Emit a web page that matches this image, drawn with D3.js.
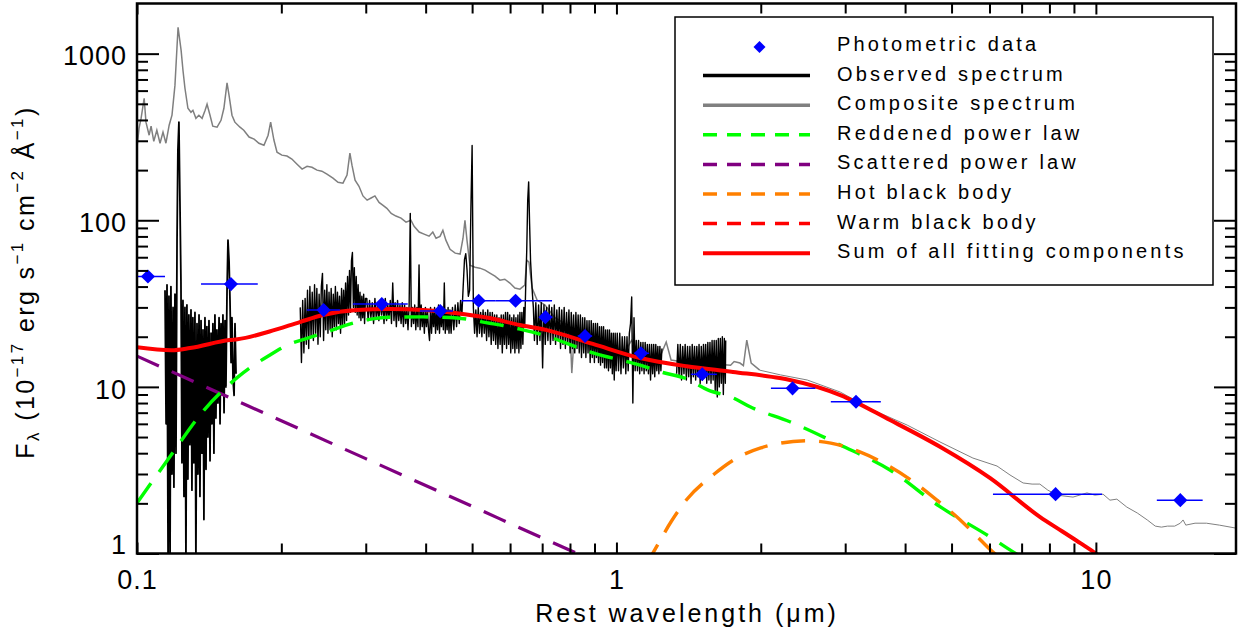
<!DOCTYPE html>
<html><head><meta charset="utf-8">
<script src="https://cdn.jsdelivr.net/npm/d3@7/dist/d3.min.js"></script>
<style>
html,body{margin:0;padding:0;background:#fff;}
svg text{font-family:"Liberation Sans",Arial,Helvetica,sans-serif;fill:#000;}
</style></head><body>
<svg id="chart" width="1247" height="640"></svg>
<script>
// ---------------- DATA (wavelength in micron, flux in 1e-17 erg/s/cm2/A) ----------------
const xMajorTicks = [0.1, 1, 10];
const xTickLabels = ["0.1", "1", "10"];
const xMinorTicks = [0.2,0.3,0.4,0.5,0.6,0.7,0.8,0.9,2,3,4,5,6,7,8,9];
const yMajorTicks = [1, 10, 100, 1000];
const yTickLabels = ["1", "10", "100", "1000"];
const yMinorTicks = [2,3,4,5,6,7,8,9,20,30,40,50,60,70,80,90,200,300,400,500,600,700,800,900];

const legendLabels = ["Photometric data","Observed spectrum","Composite spectrum","Reddened power law",
  "Scattered power law","Hot black body","Warm black body","Sum of all fitting components"];

// photometric points with wavelength ranges
const photWave = [0.1054,0.157,0.245,0.324,0.429,0.516,0.616,0.711,0.86,1.125,1.51,2.33,3.16,8.24,15.0];
const photFlux = [46,41.4,28.9,31.4,28.5,32.9,32.9,26.2,20.2,15.9,11.9,9.8,8.14,2.27,2.09];
const photLo   = [0.097,0.136,0.226,0.282,0.389,0.475,0.56,0.69,0.83,1.09,1.43,2.10,2.80,6.10,13.4];
const photHi   = [0.1144,0.1786,0.265,0.367,0.456,0.56,0.734,0.735,0.89,1.17,1.62,2.60,3.56,10.3,16.7];

// observed spectrum, UV segment
const observedUV = [
[0.1144,38],[0.1150,6],[0.1155,41],[0.1161,0.9],[0.1166,35],[0.1172,0.9],[0.1177,40],[0.1183,3],[0.1189,30],[0.1194,2.5],
[0.1200,36],[0.1206,4],[0.1212,76],[0.1217,262],[0.1223,388],[0.1229,130],[0.1235,43],[0.1241,3.5],[0.1247,33],[0.1253,2.2],
[0.1259,30],[0.1265,0.9],[0.1271,31],[0.1277,2.8],[0.1283,27],[0.1289,4.5],[0.1296,29],[0.1302,2.4],[0.1308,26],[0.1314,3.5],
[0.1321,28],[0.1327,0.9],[0.1334,24],[0.1340,3.0],[0.1347,27],[0.1353,2.2],[0.1360,25],[0.1366,4.0],[0.1373,22],[0.1379,1.6],
[0.1386,26],[0.1393,3.2],[0.1399,23],[0.1406,5.0],[0.1413,25],[0.1420,3.6],[0.1427,21],[0.1433,6.0],[0.1440,24],[0.1447,4.0],
[0.1454,27],[0.1461,6.5],[0.1468,22],[0.1475,8.0],[0.1483,26],[0.1490,6.0],[0.1497,24],[0.1504,9.0],[0.1511,27],[0.1519,7.0],
[0.1526,25],[0.1533,10],[0.1541,38],[0.1548,76],[0.1556,57],[0.1563,33],[0.1571,14],[0.1578,26],[0.1586,11],[0.1594,8.9],
[0.1601,24],[0.1609,12]];

// observed spectrum, optical segment
const observedOpt = [
[0.2190,30],[0.2203,14],[0.2216,33],[0.2229,16],[0.2242,34],[0.2255,18],[0.2268,38],[0.2281,17],[0.2294,40],[0.2307,20],
[0.2320,37],[0.2333,19],[0.2346,41],[0.2359,21],[0.2372,39],[0.2385,18],[0.2398,36],[0.2411,20],[0.2424,40],[0.2437,48],
[0.2450,19],[0.2463,38],[0.2476,22],[0.2489,41],[0.2502,21],[0.2515,37],[0.2528,22],[0.2541,39],[0.2554,20],[0.2567,36],
[0.2580,23],[0.2593,40],[0.2606,22],[0.2619,37],[0.2632,24],[0.2645,35],[0.2658,21],[0.2671,39],[0.2684,23],[0.2697,38],
[0.2710,24],[0.2723,42],[0.2736,25],[0.2749,46],[0.2762,27],[0.2775,50],[0.2788,28],[0.2801,57],[0.2814,64],[0.2827,30],
[0.2840,52],[0.2853,28],[0.2866,46],[0.2879,27],[0.2892,41],[0.2905,26],[0.2918,37],[0.2931,25],[0.2944,35],[0.2957,26],
[0.2970,36],[0.2983,24],[0.2996,34],
[0.3015,34],[0.3035,25],[0.3055,33],[0.3075,26],[0.3095,32],[0.3115,24],[0.3135,34],[0.3155,26],[0.3175,31],[0.3195,25],
[0.3215,33],[0.3235,27],[0.3255,32],[0.3275,24],[0.3295,34],[0.3315,25],[0.3335,31],[0.3355,26],[0.3375,33],[0.3395,24],
[0.3415,42],[0.3435,25],[0.3455,32],[0.3475,23],[0.3495,33],[0.3515,25],[0.3535,31],[0.3555,24],[0.3575,32],[0.3595,23],
[0.3615,31],[0.3635,24],[0.3655,30],[0.3675,22],[0.3695,31],[0.3715,110],[0.3735,23],[0.3755,30],[0.3775,24],[0.3795,31],
[0.3815,22],[0.3835,30],[0.3855,23],[0.3875,54],[0.3895,22],[0.3915,31],[0.3935,23],[0.3955,29],[0.3975,21],[0.3995,30],
[0.4015,23],[0.4035,29],[0.4055,22],[0.4075,19],[0.4095,30],[0.4115,21],[0.4135,29],[0.4155,23],[0.4175,30],[0.4195,21],
[0.4215,29],[0.4235,22],[0.4255,31],[0.4275,21],[0.4295,29],[0.4315,23],[0.4335,30],[0.4355,22],[0.4375,42],[0.4395,21],
[0.4415,29],[0.4435,22],[0.4455,30],[0.4475,21],[0.4495,29],
[0.452,21],[0.455,30],[0.458,22],[0.461,31],[0.464,23],[0.467,32],[0.470,24],[0.473,33],[0.476,27],[0.479,40],
[0.482,58],[0.485,63],[0.488,50],[0.491,35],[0.494,38],[0.497,114],[0.500,281],[0.503,30],[0.506,21],[0.509,29],
[0.512,20],[0.515,30],[0.518,21],[0.521,28],[0.524,20],[0.527,29],[0.530,21],[0.533,28],[0.536,19],[0.539,29],
[0.542,20],[0.545,28],[0.548,18],[0.551,28],[0.554,19],[0.557,27],[0.560,18],[0.563,27],[0.566,17],[0.569,26],
[0.572,18],[0.575,27],[0.578,16],[0.581,27],[0.584,18],[0.587,28],[0.590,17],[0.593,28],[0.596,18],[0.599,27],
[0.602,16],[0.605,26],[0.608,17],[0.611,27],[0.614,16],[0.617,26],[0.620,17],[0.623,27],[0.626,16],[0.629,28],
[0.632,17],[0.635,28],[0.638,18],[0.641,30],[0.644,24],[0.647,42],[0.650,66],[0.653,132],[0.656,170],[0.659,95],
[0.662,57],[0.665,45],[0.668,36],[0.671,30],
[0.6745,19],[0.6790,32],[0.6835,18],[0.6880,31],[0.6925,19],[0.6970,32],[0.7015,13],[0.7060,31],[0.7105,18],[0.7150,30],
[0.7195,19],[0.7240,31],[0.7285,18],[0.7330,30],[0.7375,19],[0.7420,31],[0.7465,18],[0.7510,29],[0.7555,19],[0.7600,30],
[0.7645,17],[0.7690,29],[0.7735,18],[0.7780,30],[0.7825,17],[0.7870,28],[0.7915,18],[0.7960,29],[0.8005,16],[0.8050,28],
[0.8095,17],[0.8140,27],[0.8185,16],[0.8230,28],[0.8275,17],[0.8320,27],[0.8365,16],[0.8410,27],[0.8455,15],[0.8500,26],
[0.8545,16],[0.8590,26],[0.8635,15],[0.8680,25],[0.8725,16],[0.8770,25],[0.8815,14],[0.8860,25],[0.8905,15],[0.8950,24],
[0.8995,14],[0.9040,24],[0.9085,15],[0.9130,24],[0.9175,14],[0.9220,23],[0.9265,13.5],[0.9310,23],[0.9355,14],[0.9400,23],
[0.9445,13],[0.9490,22],[0.9535,13],[0.9580,22],[0.9625,12.5],[0.9670,22],[0.9715,13],[0.9760,21],[0.9805,12],[0.9850,21],
[0.9895,11],[0.9940,21],[0.9985,12.5],
[1.004,21],[1.010,12.5],[1.016,21],[1.022,12],[1.028,20],[1.034,13],[1.040,20],[1.046,12],[1.052,20],[1.058,12.5],
[1.064,21],[1.070,24],[1.076,34.6],[1.082,8.0],[1.088,26],[1.094,12.5],[1.100,19],[1.106,12.5],[1.112,19],[1.118,12],
[1.124,18.5],[1.130,12.5],[1.136,18.5],[1.142,12],[1.148,18.5],[1.154,12.5],[1.160,18],[1.166,12],[1.172,18],[1.178,11],
[1.184,18],[1.190,12],[1.196,18],[1.202,11.5],[1.208,18],[1.214,12.5],[1.220,17.5],[1.226,12],[1.232,17.5],[1.238,12.5],
[1.244,17]];

// observed spectrum, near-IR segment
const observedNIR = [
[1.335,12],[1.343,18],[1.351,11.5],[1.359,18],[1.367,11],[1.375,17.5],[1.383,12],[1.391,18],[1.399,11],[1.407,17.5],
[1.415,11.5],[1.423,17.5],[1.431,10.5],[1.439,18],[1.447,11.5],[1.455,17.5],[1.463,11],[1.471,17.5],[1.479,11.5],[1.487,18],
[1.495,10.5],[1.503,17.5],[1.511,11],[1.519,18],[1.527,11.5],[1.535,18],[1.543,10.5],[1.551,18.5],[1.559,11],[1.567,18.5],
[1.575,10.5],[1.583,19],[1.591,11],[1.599,19],[1.607,9.5],[1.615,19],[1.623,8.7],[1.631,19.5],[1.639,10],[1.647,19.5],
[1.655,10.5],[1.663,20],[1.671,9],[1.679,19.5],[1.687,10.5],[1.690,19]];

// composite quasar spectrum
const composite = [
[0.1000,275],[0.1010,357],[0.1020,410],[0.1035,540],[0.1044,388],[0.1060,324],[0.1070,367],[0.1084,298],[0.1100,347],[0.1117,290],
[0.1133,338],[0.1149,290],[0.1167,372],[0.1183,427],[0.1200,647],[0.1218,1440],[0.1236,1047],[0.1247,795],[0.1259,620],[0.1277,470],
[0.1296,445],[0.1308,457],[0.1327,409],[0.1346,427],[0.1367,409],[0.1387,457],[0.1400,497],[0.1420,427],[0.1439,367],[0.1469,362],
[0.1497,398],[0.1518,470],[0.1541,667],[0.1556,562],[0.1578,427],[0.1600,388],[0.1640,362],[0.1670,347],[0.1713,316],[0.1755,307],
[0.1796,290],[0.1840,282],[0.1877,324],[0.1900,388],[0.1930,303],[0.1959,256],[0.2005,246],[0.2055,243],[0.2104,233],[0.2157,217],
[0.2210,203],[0.2263,211],[0.2317,208],[0.2374,200],[0.2430,197],[0.2490,189],[0.2563,179],[0.2626,169],[0.2689,167],[0.2742,187],
[0.2780,253],[0.2808,214],[0.2850,174],[0.2904,160],[0.2960,140],[0.3020,132],[0.3078,136],[0.3135,140],[0.3198,128],[0.3260,123],
[0.3320,118],[0.3390,110],[0.3468,106],[0.3554,103],[0.3640,97.5],[0.3727,100],[0.3784,92],[0.3877,85],[0.3970,82.6],[0.4066,80.3],
[0.4140,85],[0.4205,78],[0.4285,80],[0.4345,87],[0.4408,76],[0.4497,67],[0.4610,63.5],[0.4720,62.7],[0.4786,78],[0.4831,100],
[0.4878,76],[0.4947,53.8],[0.5070,52.3],[0.5190,51.6],[0.5320,50.2],[0.5445,48.2],[0.5580,46.2],[0.5715,43.7],[0.5850,44.3],[0.5995,42],
[0.6140,39.2],[0.6290,38.6],[0.6440,40.8],[0.6500,57.6],[0.6570,56],[0.6670,39.2],[0.6830,33.2],[0.7097,31],[0.7440,26],[0.7810,24],
[0.8000,23],[0.8070,12.1],[0.8180,22],[0.8600,20],[0.9000,18.6],[0.9460,17.8],[0.9940,16.6],[1.0400,16.1],[1.0750,19],[1.1200,15.5],
[1.1800,15.1],[1.2300,14.9],[1.2700,18.6],[1.3000,14.5],[1.3800,14.1],[1.4900,13.7],[1.6000,13.7],[1.7300,13.5],[1.7600,14.2],[1.8100,13.9],
[1.8400,13.4],[1.8700,19.1],[1.9100,13.9],[1.9900,12.6],
[2.20,11.8],[2.50,11.0],[2.93,9.31],[3.43,7.26],[4.04,5.90],[4.73,4.67],[5.54,3.74],[6.22,3.35],[6.62,2.96],[7.05,2.65],[7.36,2.61],
[7.64,2.61],[7.94,2.40],[8.30,2.24],[8.96,2.18],[9.58,2.31],[9.95,2.24],[10.35,2.27],[10.7,2.09],[11.06,2.12],[11.6,1.90],
[12.2,1.75],[12.8,1.59],[13.3,1.46],[13.7,1.44],[14.1,1.46],[14.6,1.46],[15.0,1.52],[15.2,1.59],[15.4,1.48],[16.1,1.52],
[17.0,1.52],[18.1,1.48],[19.6,1.42]];

// fitted model components
const reddenedPL = [[0.100,2.01],[0.117,3.79],[0.138,7.26],[0.162,11.4],[0.189,15.5],[0.2086,18.1],[0.223,19.3],[0.2443,21.0],
  [0.2876,24.5],[0.337,26.2],[0.395,26.3],[0.465,25.9],[0.544,24.1],[0.60,22.9],[0.63,22.2],[0.703,20.5],[0.893,16.0],[1.12,13.5],
  [1.25,12.2],[1.40,11.2],[1.55,9.6],[1.75,8.6],[1.90,7.6],[2.30,6.18],[2.93,4.48],[3.72,3.17],[4.73,1.91],[6.01,1.26],[6.8,1.0],[7.0,0.95]];
const scatteredPL = [[0.1,15.3],[0.15,9.07],[0.2,6.26],[0.3,3.71],[0.5,1.92],[0.7,1.24],[0.9,0.90]];
const hotBB = [[1.15,0.85],[1.19,1.0],[1.3,1.55],[1.4,2.1],[1.6,3.0],[1.8,3.8],[2.0,4.3],[2.2,4.6],[2.5,4.75],[2.8,4.6],
  [3.2,4.1],[3.7,3.35],[4.2,2.65],[4.7,2.05],[5.2,1.6],[5.6,1.3],[6.1,1.02],[6.3,0.95]];
const warmBB = [[3,0.2],[5,0.45],[7,0.55],[10,0.5],[15,0.4],[19.6,0.3]];
const totalFit = [[0.100,17.3],[0.118,16.6],[0.129,17.1],[0.156,19.1],[0.162,19.3],[0.189,21.5],[0.2186,24.5],[0.2443,27.0],
  [0.2876,28.9],[0.337,29.3],[0.395,28.9],[0.465,27.7],[0.544,25.9],[0.629,23.5],[0.716,21.9],[0.893,18.1],[1.12,14.9],
  [1.40,13.3],[1.75,12.3],[2.19,11.3],[2.30,11.0],[2.93,8.93],[3.72,6.32],[4.73,4.37],[6.01,2.84],[7.64,1.66],[8.5,1.36],
  [9.3,1.15],[10.0,1.0],[10.5,0.9]];

// ---------------- DRAWING ----------------
const W = 1247, H = 640;
const P = {left: 137, right: 1236, top: 3.5, bottom: 553.5};
const x = d3.scaleLog().domain([0.1, 19.6]).range([P.left, P.right]);
const y = d3.scaleLog().domain([1, 2000]).range([P.bottom, P.top]);

const svg = d3.select("#chart");
svg.append("rect").attr("width", W).attr("height", H).attr("fill", "#fff");
svg.append("defs").append("clipPath").attr("id", "clip").append("rect")
  .attr("x", P.left).attr("y", P.top).attr("width", P.right - P.left).attr("height", P.bottom - P.top);
const g = svg.append("g").attr("clip-path", "url(#clip)");

const line = d3.line().x(d => x(d[0])).y(d => y(d[1]));
const smooth = d3.line().x(d => x(d[0])).y(d => y(d[1])).curve(d3.curveMonotoneX);

// composite
g.append("path").datum(composite.filter(d => d[0] <= 1.99)).attr("d", line)
  .attr("fill", "none").attr("stroke", "#7f7f7f").attr("stroke-width", 1.5);
g.append("path").datum(composite.filter(d => d[0] >= 1.99)).attr("d", line)
  .attr("fill", "none").attr("stroke", "#808080").attr("stroke-width", 1);

// observed
[[observedUV, 1.8], [observedOpt, 1.4], [observedNIR, 1.4]].forEach(([seg, w]) => {
  g.append("path").datum(seg).attr("d", line).attr("fill", "none")
    .attr("stroke", "#000").attr("stroke-width", w).attr("stroke-linejoin", "round");
});

// models
const dash = "24,14";
const models = [
  {data: scatteredPL, color: "#800080", w: 3.2, dash: dash},
  {data: reddenedPL, color: "#00ff00", w: 3.4, dash: dash},
  {data: hotBB, color: "#ff8000", w: 3.4, dash: dash},
  {data: warmBB, color: "#ff0000", w: 3.4, dash: dash},
  {data: totalFit, color: "#ff0000", w: 4, dash: null}
];
models.forEach(m => {
  const p = g.append("path").datum(m.data).attr("d", smooth).attr("fill", "none")
    .attr("stroke", m.color).attr("stroke-width", m.w);
  if (m.dash) p.attr("stroke-dasharray", m.dash);
});

// photometry
const phot = photWave.map((w, i) => ({w, f: photFlux[i], lo: photLo[i], hi: photHi[i]}));
g.selectAll("line.err").data(phot).enter().append("line").attr("class", "err")
  .attr("x1", d => x(d.lo)).attr("x2", d => x(d.hi)).attr("y1", d => y(d.f)).attr("y2", d => y(d.f))
  .attr("stroke", "#0000ff").attr("stroke-width", 1.5);
const diamond = d3.symbol().type(d3.symbolSquare).size(100);
g.selectAll("path.pt").data(phot).enter().append("path").attr("class", "pt")
  .attr("d", diamond).attr("fill", "#0000ff")
  .attr("transform", d => `translate(${x(d.w)},${y(d.f)}) rotate(45)`);

// axes
function styleAxis(sel) {
  sel.select(".domain").remove();
  sel.selectAll(".tick line").attr("stroke", "#000").attr("stroke-width", 2);
  sel.selectAll(".tick text").style("font-size", "27px").style("letter-spacing", "1px").attr("fill", "#000");
}
const none = () => "";
svg.append("g").attr("transform", `translate(0,${P.bottom})`)
  .call(d3.axisBottom(x).tickValues(xMajorTicks).tickFormat((d, i) => xTickLabels[i]).tickSize(-11).tickPadding(16))
  .call(styleAxis);
svg.append("g").attr("transform", `translate(0,${P.bottom})`)
  .call(d3.axisBottom(x).tickValues(xMinorTicks).tickFormat(none).tickSize(-10)).call(styleAxis);
svg.append("g").attr("transform", `translate(0,${P.top})`)
  .call(d3.axisTop(x).tickValues(xMajorTicks).tickFormat(none).tickSize(-11)).call(styleAxis);
svg.append("g").attr("transform", `translate(0,${P.top})`)
  .call(d3.axisTop(x).tickValues(xMinorTicks).tickFormat(none).tickSize(-10)).call(styleAxis);
const yAx = svg.append("g").attr("transform", `translate(${P.left},0)`)
  .call(d3.axisLeft(y).tickValues(yMajorTicks).tickFormat((d, i) => yTickLabels[i]).tickSize(-22).tickPadding(10))
  .call(styleAxis);
yAx.selectAll(".tick text").attr("dy", d => d === 1 ? "0.0em" : "0.42em");
svg.append("g").attr("transform", `translate(${P.left},0)`)
  .call(d3.axisLeft(y).tickValues(yMinorTicks).tickFormat(none).tickSize(-11)).call(styleAxis);
svg.append("g").attr("transform", `translate(${P.right},0)`)
  .call(d3.axisRight(y).tickValues(yMajorTicks).tickFormat(none).tickSize(-22)).call(styleAxis);
svg.append("g").attr("transform", `translate(${P.right},0)`)
  .call(d3.axisRight(y).tickValues(yMinorTicks).tickFormat(none).tickSize(-11)).call(styleAxis);

svg.append("rect").attr("x", P.left).attr("y", P.top).attr("width", P.right - P.left).attr("height", P.bottom - P.top)
  .attr("fill", "none").attr("stroke", "#000").attr("stroke-width", 2.5);

// axis titles
svg.append("text").attr("x", 687).attr("y", 622).attr("text-anchor", "middle")
  .style("font-size", "25px").style("letter-spacing", "3px").text("Rest wavelength (\u03BCm)");

const yl = svg.append("text").attr("transform", "translate(34,282) rotate(-90)").attr("text-anchor", "middle")
  .style("font-size", "25px").style("letter-spacing", "2.4px");
yl.append("tspan").text("F");
yl.append("tspan").attr("dy", 5).style("font-size", "17px").text("\u03BB");
yl.append("tspan").attr("dy", -5).text(" (10");
yl.append("tspan").attr("dy", -11).style("font-size", "17px").text("\u221217");
yl.append("tspan").attr("dy", 11).text(" erg s");
yl.append("tspan").attr("dy", -11).style("font-size", "17px").text("\u22121");
yl.append("tspan").attr("dy", 11).text(" cm");
yl.append("tspan").attr("dy", -11).style("font-size", "17px").text("\u22122");
yl.append("tspan").attr("dy", 11).text(" \u00C5");
yl.append("tspan").attr("dy", -11).style("font-size", "17px").text("\u22121");
yl.append("tspan").attr("dy", 11).text(")");

// legend
const L = {x: 675, y: 17, w: 538, h: 268, row0: 44, step: 29.6, l1: 703, l2: 810, tx: 837};
svg.append("rect").attr("x", L.x).attr("y", L.y).attr("width", L.w).attr("height", L.h)
  .attr("fill", "#fff").attr("stroke", "#000").attr("stroke-width", 1.5);
const legendStyles = [
  {type: "pt"},
  {color: "#000", w: 3.5, dash: null},
  {color: "#808080", w: 3.5, dash: null},
  {color: "#00ff00", w: 3.5, dash: "14,10"},
  {color: "#800080", w: 3.5, dash: "14,10"},
  {color: "#ff8000", w: 3.5, dash: "14,10"},
  {color: "#ff0000", w: 3.5, dash: "14,10"},
  {color: "#ff0000", w: 4, dash: null}
];
legendLabels.forEach((lab, i) => {
  const cy = L.row0 + i * L.step;
  const s = legendStyles[i];
  if (s.type === "pt") {
    svg.append("path").attr("d", d3.symbol().type(d3.symbolSquare).size(72))
      .attr("fill", "#0000ff").attr("transform", `translate(${(L.l1 + L.l2) / 2 + 3},${cy + 3}) rotate(45)`);
  } else {
    const ln = svg.append("line").attr("x1", L.l1).attr("x2", L.l2).attr("y1", cy + 2).attr("y2", cy + 2)
      .attr("stroke", s.color).attr("stroke-width", s.w);
    if (s.dash) ln.attr("stroke-dasharray", s.dash);
  }
  svg.append("text").attr("x", L.tx).attr("y", cy + 7).style("font-size", "20px")
    .style("letter-spacing", "3.2px").text(lab);
});
</script></body></html>
